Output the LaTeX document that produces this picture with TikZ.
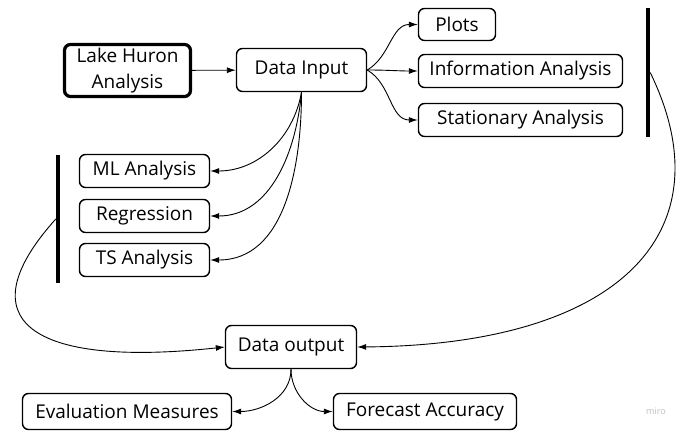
\documentclass[tikz,border=0pt]{standalone}
\usepackage{fontspec}
\setmainfont{Open Sans}
\usetikzlibrary{arrows.meta}
\begin{document}
\begin{tikzpicture}[x=1pt,y=-1pt,
 box/.style={draw, rounded corners=6pt, line width=1.4pt, inner sep=0pt, minimum height=34pt, font=\fontsize{19}{23}\selectfont},
 conn/.style={line width=0.9pt, -{Latex[length=9pt,width=6pt]}},
 bar/.style={fill=black, inner sep=0pt, minimum width=4pt},
 wm/.style={text=black!25, font=\fontsize{9}{10}\selectfont}]
\useasboundingbox (0,0) rectangle (680,435);
\node[box, line width=3.2pt, minimum width=126, minimum height=52, align=center, font=\fontsize{19}{26}\selectfont] (lh) at (127.5,70.5) {Lake Huron\\Analysis};
\node[box, minimum width=130, minimum height=43] (di) at (301.5,70) {Data Input};
\node[box, minimum width=77, minimum height=32] (plots) at (457,24.5) {Plots};
\node[box, minimum width=204, minimum height=33] (info) at (520.5,71) {Information Analysis};
\node[box, minimum width=204, minimum height=33] (stat) at (520.5,120) {Stationary Analysis};
\node[bar, minimum height=129] (rbar) at (648,72.5) {};
\node[box, minimum width=130, minimum height=33] (ml) at (144.5,171) {ML Analysis};
\node[box, minimum width=130, minimum height=33] (reg) at (144.5,216) {Regression};
\node[box, minimum width=130, minimum height=33] (ts) at (144.5,260) {TS Analysis};
\node[bar, minimum height=128] (lbar) at (58,219) {};
\node[box, minimum width=131, minimum height=43] (do) at (291,347) {Data output};
\node[box, minimum width=209, minimum height=36] (ev) at (127,411.5) {Evaluation Measures};
\node[box, minimum width=183, minimum height=36] (fa) at (425,411.5) {Forecast Accuracy};
\node[wm] (miro) at (656,411) {miro};
\draw[conn] (lh) -- (di);
\draw[conn] (di.east) to[out=30,in=180] (plots.west);
\draw[conn] (di.east) to[out=0,in=180] (info.west);
\draw[conn] (di.east) to[out=-30,in=180] (stat.west);
\draw[conn] (di.south) to[out=-100,in=0] (ml.east);
\draw[conn] (di.south) to[out=-95,in=0] (reg.east);
\draw[conn] (di.south) to[out=-90,in=0] (ts.east);
\draw[conn] (lbar.west) .. controls (-35,320) and (30,368) .. (do.west);
\draw[conn] (rbar.east) .. controls (728,232) and (620,345) .. (do.east);
\draw[conn] (do.south) to[out=-90,in=0] (ev.east);
\draw[conn] (do.south) to[out=-90,in=180] (fa.west);
\end{tikzpicture}
\end{document}
